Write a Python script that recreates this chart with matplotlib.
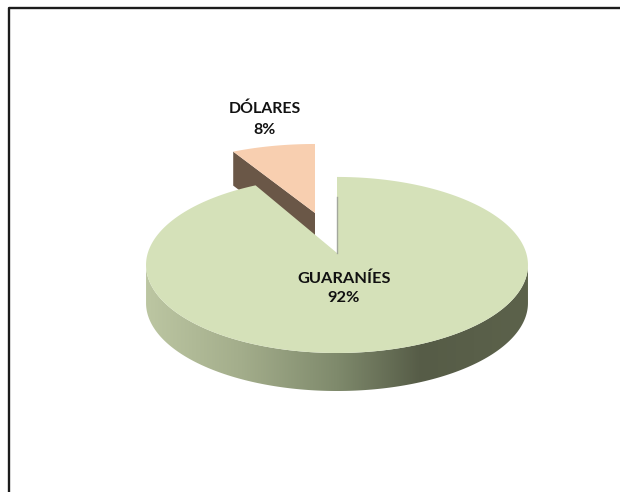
#!/usr/bin/env python3

import numpy as np
import matplotlib
matplotlib.use("Agg")
import matplotlib.pyplot as plt
from matplotlib.colors import LinearSegmentedColormap
from matplotlib.patches import Polygon

labels = ["GUARANÍES", "DÓLARES"]
shares = [92, 8]

tilt = -0.136  # perspective of the disc, back edge looks shorter


def project(t, cx, cy, a, b):
    # t is clockwise from 12 o'clock, radians. Returns pixel coords
    u = np.sin(t)
    v = -np.cos(t)
    d = 1 + tilt * v
    return cx + a * u / d, cy + b * v / d


fig = plt.figure(figsize=(6.2, 4.92), dpi=100)
ax = fig.add_axes([0, 0, 1, 1])
ax.set_xlim(0, 620)
ax.set_ylim(492, 0)
ax.axis("off")

# outer frame, only top and left are in the picture
ax.plot([8.5, 8.5, 620], [492, 7.5, 7.5], color="#1c1c1c", lw=1.7, solid_capstyle="butt")

sweep_big = 2 * np.pi * shares[0] / sum(shares)
sweep_small = 2 * np.pi * shares[1] / sum(shares)

# pulled out slice, drawn first so the big slice covers its wall
small_t = np.linspace(2 * np.pi - sweep_small, 2 * np.pi, 40)
sx, sy = project(small_t, 315, 213, 190, 78.4)
wall_depth = 34
ax.add_patch(Polygon([(sx[0], sy[0]), (315, 213), (315, 213 + wall_depth),
                      (sx[0], sy[0] + wall_depth)],
                     closed=True, fc="#6a5747", ec="none", zorder=2))
ax.add_patch(Polygon(np.column_stack([np.r_[315, sx], np.r_[213, sy]]),
                     closed=True, fc="#f8cfb0", ec="none", zorder=3))

# big slice
big_t = np.linspace(0, sweep_big, 400)
bx, by = project(big_t, 337, 253, 189.2, 86.4)
depth = 38

# wall under the front part of the rim, shaded from left to right
front = by >= 265
fx, fy = bx[front], by[front]
order = np.argsort(fx)
fx, fy = fx[order], fy[order]
wall = Polygon(np.column_stack([np.r_[fx, fx[::-1]], np.r_[fy, fy[::-1] + depth]]),
               closed=True, fc="none", ec="none", zorder=4)
ax.add_patch(wall)
wall_cmap = LinearSegmentedColormap.from_list(
    "wall",
    [(0.0, "#bcc6a2"), (0.25, "#a3ad8b"), (0.5, "#7f8a6c"),
     (0.72, "#565c47"), (1.0, "#5c624b")],
)
im = ax.imshow(np.linspace(0, 1, 256)[None, :], cmap=wall_cmap, aspect="auto",
               extent=[fx.min(), fx.max(), 395, 260], zorder=4)
im.set_clip_path(wall)
ax.set_xlim(0, 620)
ax.set_ylim(492, 0)

ax.add_patch(Polygon(np.column_stack([np.r_[337, bx], np.r_[253, by]]),
                     closed=True, fc="#d5e1b9", ec="none", zorder=5))

# thin inner edge at the start of the big slice
ax.plot([337, 337], [197, 253], color="#a3a89c", lw=1.0, zorder=6)

ax.text(344, 288.5, f"{labels[0]}\n{shares[0]}%", ha="center", va="center",
        family="Lato", weight="bold", fontsize=11.8, color="#111111",
        linespacing=1.5, zorder=7)
ax.text(265, 119.5, f"{labels[1]}\n{shares[1]}%", ha="center", va="center",
        family="Lato", weight="bold", fontsize=11.4, color="#111111",
        linespacing=1.65, zorder=7)

fig.savefig("out.png", dpi=100)
